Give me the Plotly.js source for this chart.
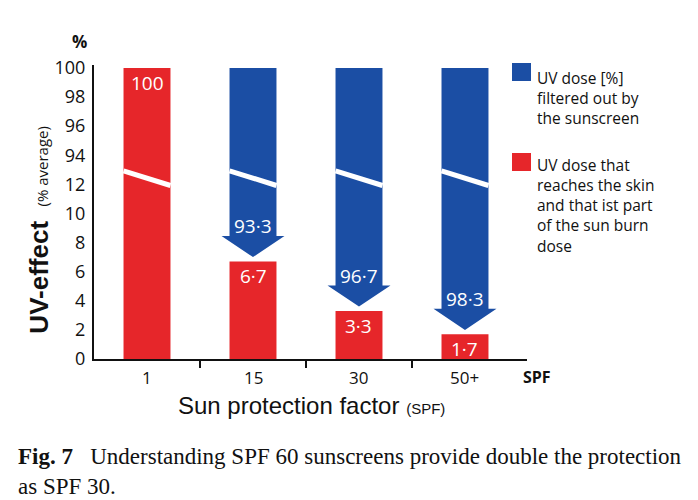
<!DOCTYPE html>
<html>
<head>
<meta charset="utf-8">
<script src="https://cdn.plot.ly/plotly-3.0.1.min.js"></script>
<style>html,body{margin:0;padding:0;background:#fff;}#chart{width:698px;height:500px;}</style>
</head>
<body>
<div id="chart"></div>
<script>
// ---- data ----
const categories = ['1', '15', '30', '50+'];
const reachesSkin = [100, 6.7, 3.3, 1.7];          // red: UV dose reaching the skin (%)
const filteredOut = [null, 93.3, 96.7, 98.3];      // blue: UV dose filtered out (%)
const yTickValues = [0, 2, 4, 6, 8, 10, 12, 94, 96, 98, 100];
const legendBlue = ['UV dose [%]', 'filtered out by', 'the sunscreen'];
const legendRed = ['UV dose that', 'reaches the skin', 'and that ist part', 'of the sun burn', 'dose'];

// ---- styling ----
const RED = '#e6262a';
const BLUE = '#1b4ea4';
const SANS = 'Open Sans, Noto Sans, sans-serif';
const ARIAL = 'Liberation Sans, Arial, sans-serif';
const INK = '#111';

// broken axis: 0..12 drawn as is, 94..100 drawn as 14..20
function disp(v) { return v >= 94 ? v - 80 : v; }
function fmt(v) { return String(v).replace('.', '\u00b7'); }

const xIdx = categories.map((c, i) => i);
const barW = 0.443, headHalf = 0.297, headH = 1.45, gap = 0.3;

// red bars
const redTrace = {
  type: 'bar', x: xIdx, y: reachesSkin.map(disp), width: barW,
  marker: {color: RED, line: {width: 0}}, hoverinfo: 'skip', showlegend: false
};

// blue bars (from arrow head up to 100 %)
const bx = [], bBase = [], bLen = [];
const headX = [], headY = [];
filteredOut.forEach((f, i) => {
  if (f == null) return;
  const tip = disp(100 - f) + gap;
  const top = tip + headH;
  bx.push(i); bBase.push(top - 0.05); bLen.push(disp(100) - top + 0.05);
  headX.push(i - headHalf, i + headHalf, i, i - headHalf, null);
  headY.push(top, top, tip, top, null);
});
const blueTrace = {
  type: 'bar', x: bx, y: bLen, base: bBase, width: barW,
  marker: {color: BLUE, line: {width: 0}}, hoverinfo: 'skip', showlegend: false
};
const headTrace = {
  type: 'scatter', mode: 'lines', x: headX, y: headY, fill: 'toself',
  fillcolor: BLUE, line: {width: 0, color: BLUE}, hoverinfo: 'skip', showlegend: false
};

// white break stripes across every bar
const brX = [], brY = [];
xIdx.forEach(i => {
  brX.push(i - barW / 2, i + barW / 2, null);
  brY.push(12.93, 11.92, null);
});
const breakTrace = {
  type: 'scatter', mode: 'lines', x: brX, y: brY,
  line: {color: '#ffffff', width: 5}, hoverinfo: 'skip', showlegend: false
};

const annotations = [];
// value labels
reachesSkin.forEach((v, i) => {
  annotations.push({x: i, y: disp(v), xref: 'x', yref: 'y', text: fmt(v), showarrow: false,
    yanchor: 'top', yshift: 0, font: {family: SANS, size: 19, color: '#ffffff'}});
});
filteredOut.forEach((f, i) => {
  if (f == null) return;
  const top = disp(100 - f) + gap + headH;
  annotations.push({x: i, y: top, xref: 'x', yref: 'y', text: fmt(f), showarrow: false,
    yanchor: 'bottom', yshift: -5, font: {family: SANS, size: 19, color: '#ffffff'}});
});
// category labels
categories.forEach((c, i) => {
  annotations.push({x: i, y: 0, xref: 'x', yref: 'y', text: c, showarrow: false,
    yanchor: 'top', yshift: -5, font: {family: SANS, size: 17, color: INK}});
});
annotations.push({x: 1, xref: 'paper', xanchor: 'left', xshift: -6, y: 0, yref: 'y', yanchor: 'top', yshift: -5,
  text: '<b>SPF</b>', showarrow: false, font: {family: SANS, size: 16, color: INK}});
annotations.push({x: 0, xref: 'paper', xanchor: 'center', xshift: -15, y: 1, yref: 'paper', yanchor: 'bottom', yshift: 10,
  text: '<b>%</b>', showarrow: false, font: {family: SANS, size: 17, color: INK}});
// axis titles
annotations.push({x: 0.503, xref: 'paper', y: 0, yref: 'paper', yanchor: 'top', yshift: -31, showarrow: false,
  text: 'Sun protection factor <span style="font-size:15px">(SPF)</span>',
  font: {family: ARIAL, size: 24, color: INK}});
annotations.push({x: 0, xref: 'paper', xanchor: 'center', xshift: -55, y: 0.44, yref: 'paper', showarrow: false,
  textangle: -90,
  text: '<b>UV-effect</b>  <span style="font-size:15px;font-family:Open Sans">(% average)</span>',
  font: {family: ARIAL, size: 26, color: INK}});
// legend text blocks
annotations.push({x: 1, xref: 'paper', xanchor: 'left', xshift: 8, y: 1, yref: 'paper', yanchor: 'top',
  yshift: 0, align: 'left', showarrow: false, text: legendBlue.join('<br>'),
  font: {family: SANS, size: 15.5, color: INK}});
annotations.push({x: 1, xref: 'paper', xanchor: 'left', xshift: 8, y: 1, yref: 'paper', yanchor: 'top',
  yshift: -87, align: 'left', showarrow: false, text: legendRed.join('<br>'),
  font: {family: SANS, size: 15.5, color: INK}});
// caption
annotations.push({x: 0, xref: 'paper', xanchor: 'left', xshift: -78, y: 0, yref: 'paper', yanchor: 'top', yshift: -83,
  align: 'left', showarrow: false,
  text: '<b>Fig. 7</b>   Understanding SPF 60 sunscreens provide double the protection<br>as SPF 30.',
  font: {family: 'Liberation Serif, Times New Roman, serif', size: 23, color: INK}});

const layout = {
  width: 698, height: 500,
  margin: {l: 94, r: 171, t: 65, b: 141},
  paper_bgcolor: '#fff', plot_bgcolor: '#fff',
  showlegend: false, barmode: 'overlay',
  xaxis: {range: [-0.5, 3.585], tickvals: [0.5, 1.5, 2.5], ticktext: ['', '', ''],
    ticks: 'outside', ticklen: 7, tickwidth: 2, tickcolor: INK,
    showline: true, linecolor: INK, linewidth: 2, showgrid: false, zeroline: false, fixedrange: true},
  yaxis: {range: [0, 20.2], tickvals: yTickValues.map(disp), ticktext: yTickValues.map(String),
    ticks: '', showline: true, linecolor: INK, linewidth: 2, showgrid: false, zeroline: false,
    tickfont: {family: SANS, size: 18, color: INK}, ticklabelstandoff: 3, fixedrange: true},
  annotations: annotations,
  shapes: [
    // legend swatches
    {type: 'rect', xref: 'paper', yref: 'paper',
      xsizemode: 'pixel', ysizemode: 'pixel', xanchor: 1, yanchor: 1,
      x0: -15, x1: 4, y0: 2, y1: -16, fillcolor: BLUE, line: {width: 0}},
    {type: 'rect', xref: 'paper', yref: 'paper',
      xsizemode: 'pixel', ysizemode: 'pixel', xanchor: 1, yanchor: 1,
      x0: -15, x1: 4, y0: -88, y1: -106, fillcolor: RED, line: {width: 0}}
  ]
};

Plotly.newPlot('chart', [redTrace, blueTrace, headTrace, breakTrace], layout, {displayModeBar: false, staticPlot: true});
</script>
</body>
</html>
